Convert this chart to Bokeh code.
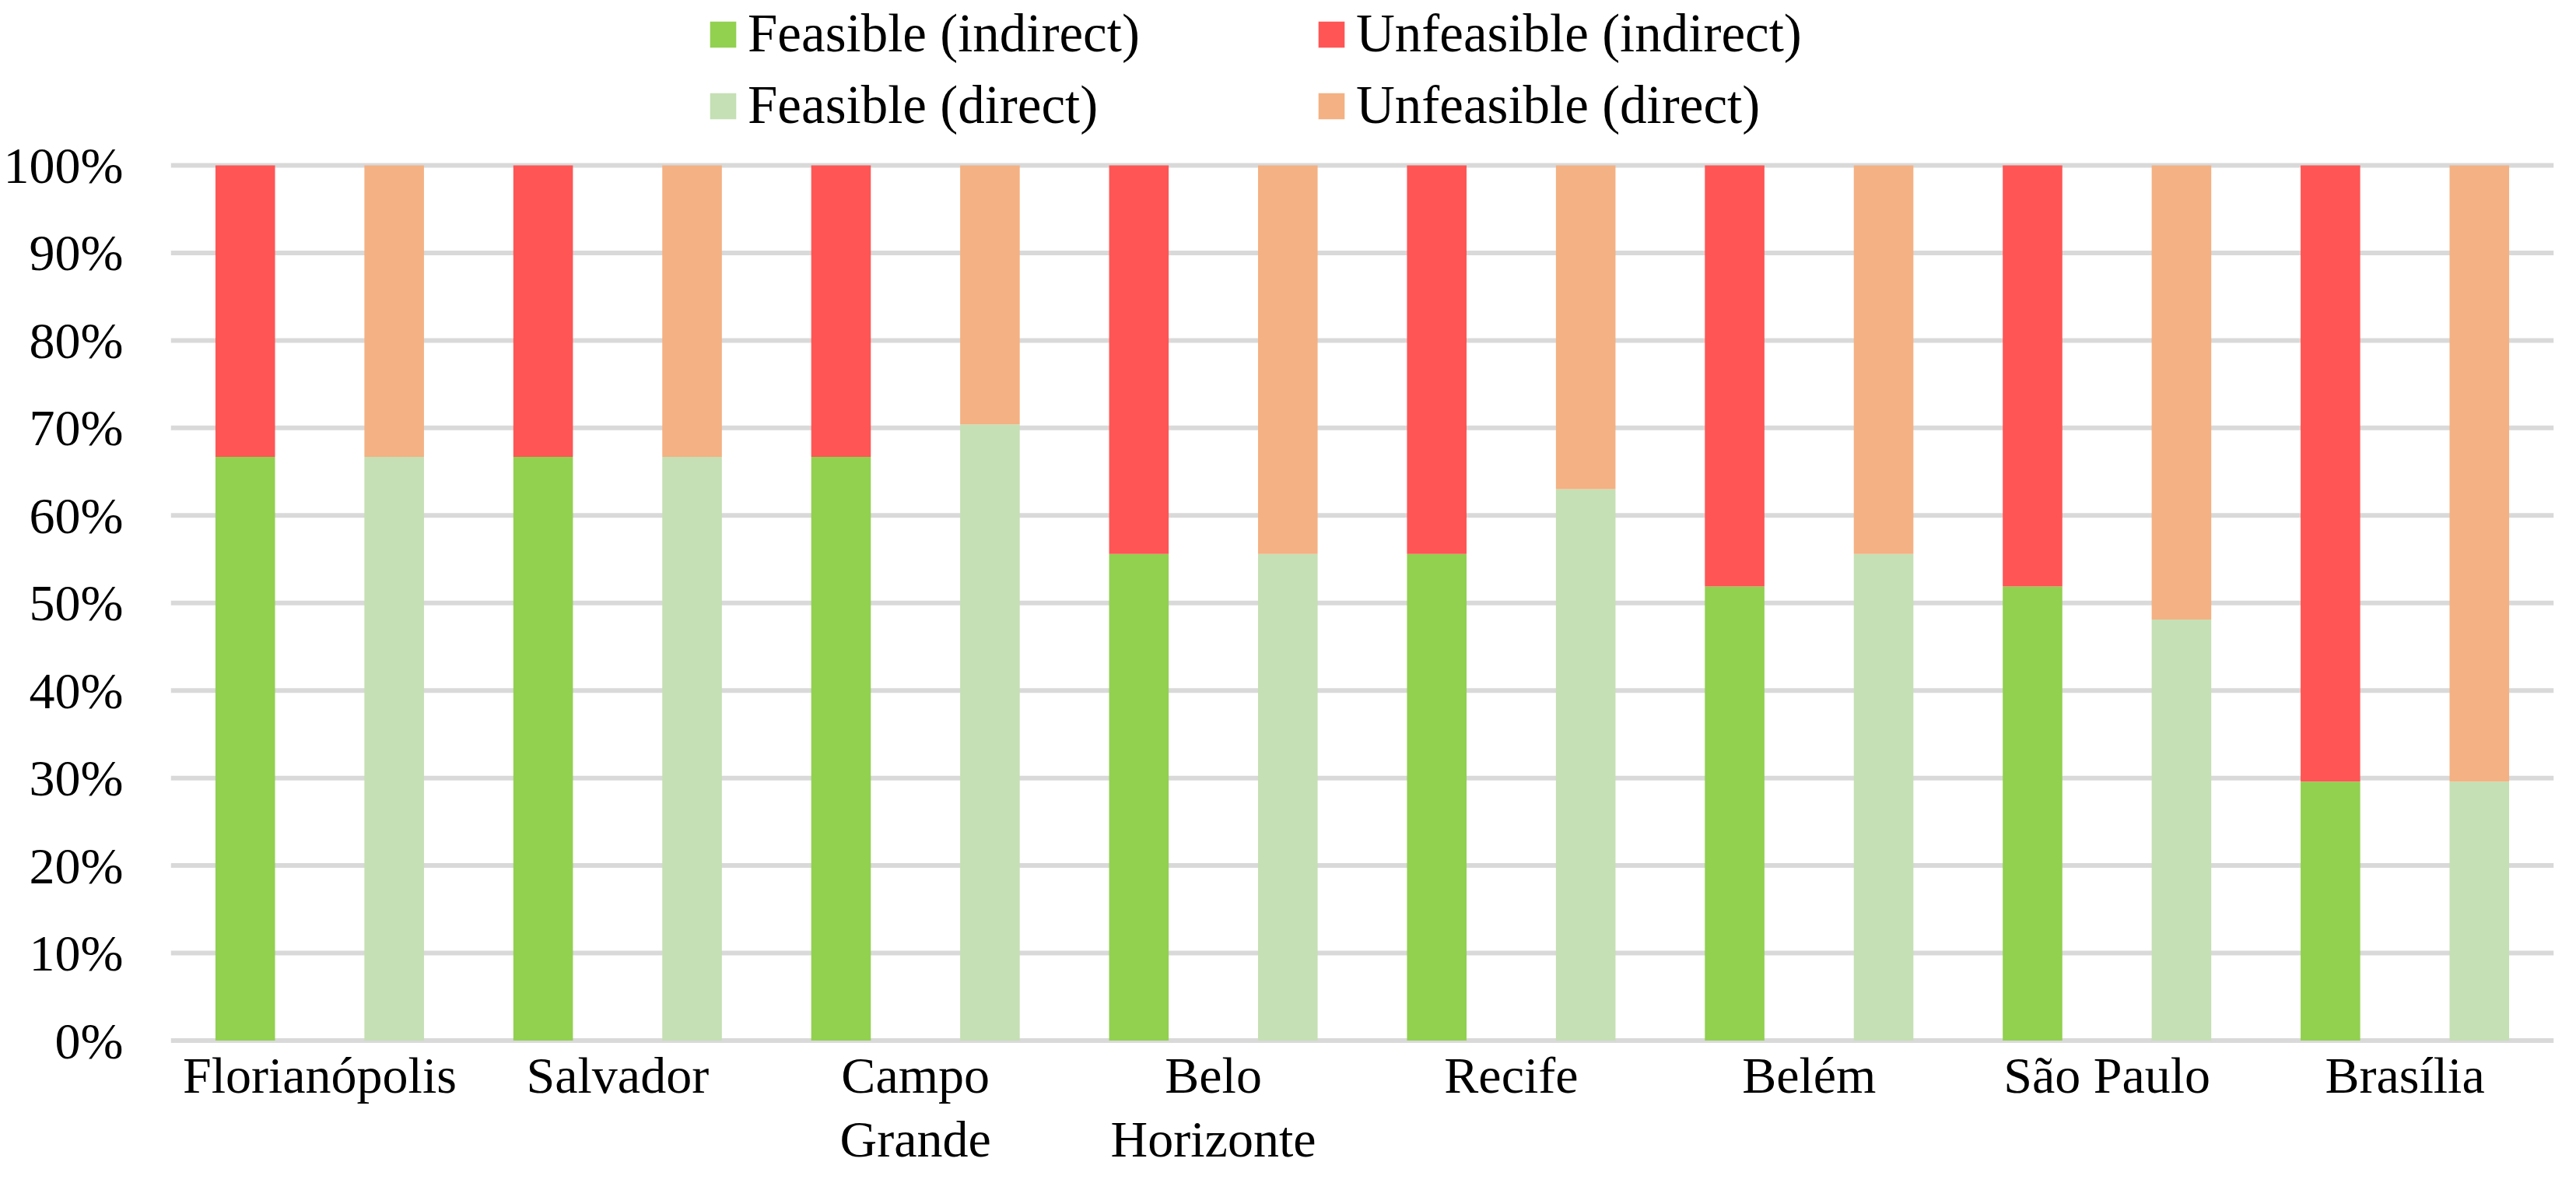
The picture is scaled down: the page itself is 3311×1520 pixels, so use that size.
from bokeh.plotting import figure
from bokeh.models import ColumnDataSource, Range1d, FixedTicker, NumeralTickFormatter, Legend, LegendItem
from bokeh.core.properties import value
from bokeh.embed import file_html
from bokeh.resources import INLINE

# ---- data ----
cities = ["Florianópolis", "Salvador", "Campo Grande", "Belo Horizonte",
          "Recife", "Belém", "São Paulo", "Brasília"]
city_tick_labels = ["Florianópolis", "Salvador", "Campo\nGrande", "Belo\nHorizonte",
                    "Recife", "Belém", "São Paulo", "Brasília"]
feasible_indirect = [0.667, 0.667, 0.667, 0.556, 0.556, 0.519, 0.519, 0.296]
feasible_direct = [0.667, 0.667, 0.704, 0.556, 0.630, 0.556, 0.481, 0.296]
unfeasible_indirect = [1 - v for v in feasible_indirect]
unfeasible_direct = [1 - v for v in feasible_direct]
y_ticks = [0.0, 0.1, 0.2, 0.3, 0.4, 0.5, 0.6, 0.7, 0.8, 0.9, 1.0]

# ---- colours / fonts ----
C_FI = "#92D050"
C_UI = "#FF5555"
C_FD = "#C5E0B4"
C_UD = "#F4B183"
C_GRID = "#D9D9D9"
FONT = "Liberation Serif"

# ---- layout (pixels) ----
W, H = 3303, 1512
TOP_PX = 212          # y = 100 %
ZERO_PX = 1336.5      # y = 0 %
unit = ZERO_PX - TOP_PX
y_top = 1 + TOP_PX / unit
y_bot = -(H - ZERO_PX) / unit

n = len(cities)
x_ind = [2 * i + 0.5 for i in range(n)]
x_dir = [2 * i + 1.5 for i in range(n)]
x_city = [2 * i + 1 for i in range(n)]

src_ind = ColumnDataSource(dict(x=x_ind, feas=feasible_indirect, unf=unfeasible_indirect))
src_dir = ColumnDataSource(dict(x=x_dir, feas=feasible_direct, unf=unfeasible_direct))

p = figure(width=W, height=H, x_range=Range1d(0, 2 * n), y_range=Range1d(y_bot, y_top),
           output_backend="svg", toolbar_location=None,
           min_border_left=219, min_border_right=21, min_border_top=0, min_border_bottom=0)
p.outline_line_color = None
p.background_fill_color = "white"
p.xgrid.visible = False
p.ygrid.visible = False
p.xaxis.visible = False

# horizontal grid lines (behind bars)
p.segment(x0=[0] * len(y_ticks), x1=[2 * n] * len(y_ticks), y0=y_ticks, y1=y_ticks,
          line_color=C_GRID, line_width=6, level="underlay")

BW = 0.40
r_ind = p.vbar_stack(["feas", "unf"], x="x", width=BW, source=src_ind,
                     color=[C_FI, C_UI], line_color=None)
r_dir = p.vbar_stack(["feas", "unf"], x="x", width=BW, source=src_dir,
                     color=[C_FD, C_UD], line_color=None)

# category labels under each city pair
p.text(x=x_city, y=[0] * n, text=city_tick_labels, y_offset=8,
       text_align="center", text_baseline="top", text_font=value(FONT),
       text_font_size="66px", text_color="black", text_line_height=1.12)

# y axis
yax = p.yaxis[0]
yax.ticker = FixedTicker(ticks=y_ticks)
yax.formatter = NumeralTickFormatter(format="0%")
yax.axis_line_color = None
yax.major_tick_line_color = None
yax.minor_tick_line_color = None
yax.major_tick_out = 0
yax.major_tick_in = 0
yax.major_label_text_font = FONT
yax.major_label_text_font_size = "66px"
yax.major_label_text_color = "black"
yax.major_label_standoff = 61

legend = Legend(items=[
    LegendItem(label="Feasible (indirect)", renderers=[r_ind[0]]),
    LegendItem(label="Feasible (direct)", renderers=[r_dir[0]]),
    LegendItem(label="Unfeasible (indirect)", renderers=[r_ind[1]]),
    LegendItem(label="Unfeasible (direct)", renderers=[r_dir[1]]),
], location=(689, 1337), orientation="vertical", ncols=2)
legend.glyph_width = 42
legend.glyph_height = 42
legend.label_standoff = 11
legend.label_width = 716
legend.label_height = 78
legend.spacing = 13
legend.padding = 0
legend.margin = 0
legend.border_line_color = None
legend.background_fill_alpha = 0
legend.label_text_font = FONT
legend.label_text_font_size = "69px"
legend.label_text_color = "black"
p.add_layout(legend)

open("out.html", "w").write(file_html(p, INLINE))
